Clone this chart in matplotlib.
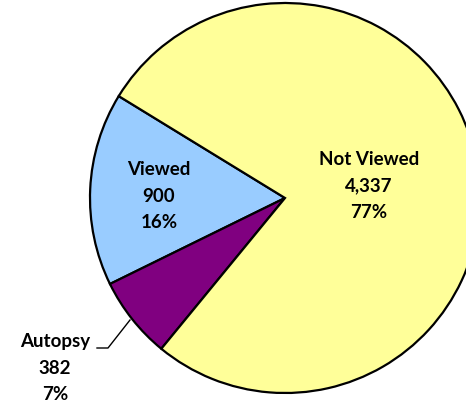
import matplotlib.pyplot as plt

# data
labels = ["Viewed", "Autopsy", "Not Viewed"]
counts = [900, 382, 4337]
colors = ["#99CCFF", "#800080", "#FFFF99"]

plt.rcParams['font.family'] = ['Lato', 'DejaVu Sans']

W, H = 466, 404
fig = plt.figure(figsize=(W / 100, H / 100), dpi=100)
ax = fig.add_axes([0, 0, 1, 1])

cx, cy, r = 285, H - 198, 195
total = sum(counts)
ax.pie(counts, colors=colors, startangle=148.5, counterclock=True,
       center=(cx, cy), radius=r, frame=True,
       wedgeprops=dict(edgecolor="black", linewidth=1.6))
ax.set_xlim(0, W)
ax.set_ylim(0, H)
ax.set_aspect("equal")
ax.axis("off")

def lab(i):
    return f"{labels[i]}\n{counts[i]:,}\n{round(100 * counts[i] / total)}%"

kw = dict(ha="center", va="center", fontsize=13.5, fontweight="bold",
          linespacing=1.65, color="black")
ax.text(369, H - 186, lab(2), **kw)
ax.text(159, H - 196, lab(0), **kw)
ax.text(55, H - 368, lab(1), **kw)
ax.plot([97, 108, 130], [H - 348, H - 348, H - 320], color="black", lw=1)

fig.savefig("out.png", dpi=100)
